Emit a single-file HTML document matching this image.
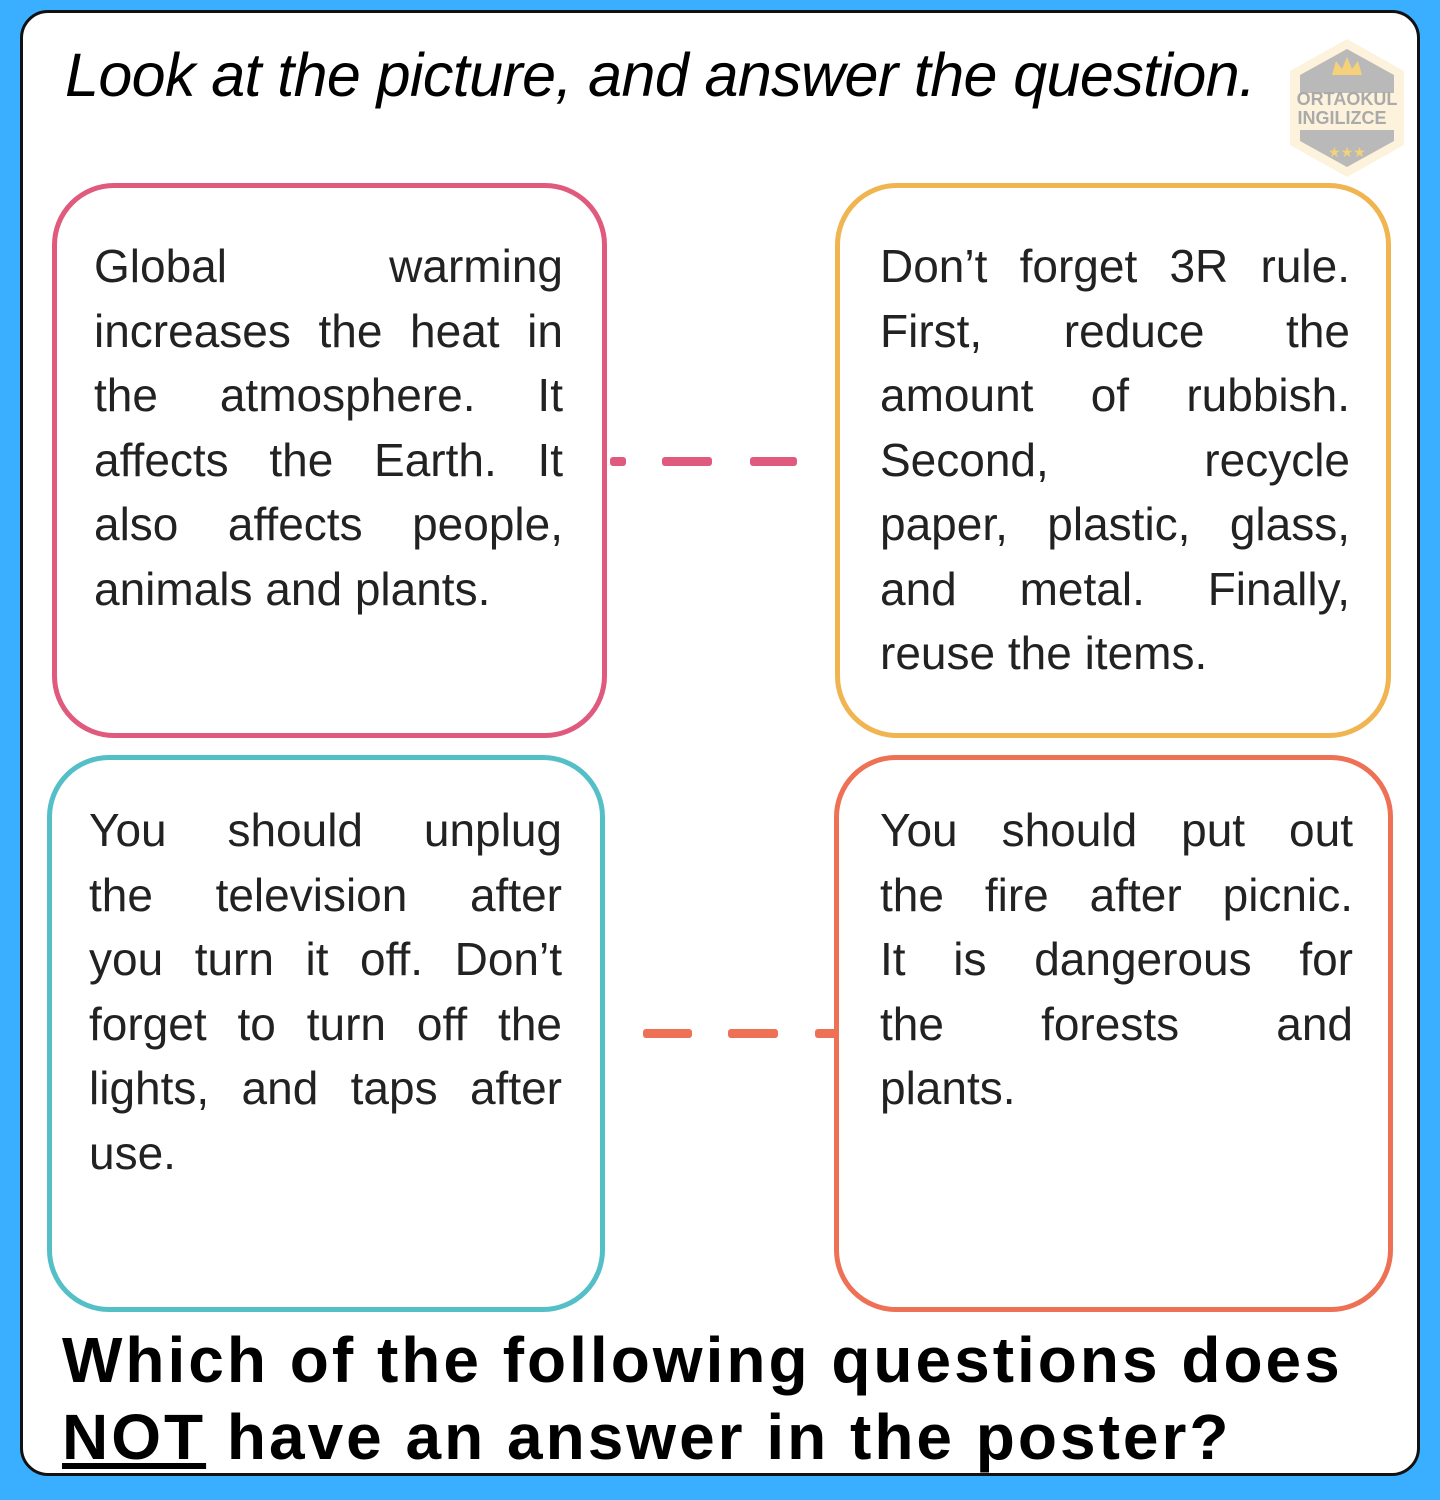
<!DOCTYPE html>
<html><head><style>
body{margin:0;width:1440px;height:1500px;background:#3aaeff;position:relative;overflow:hidden;font-family:"Liberation Sans",sans-serif}
.card{position:absolute;left:20px;top:10px;width:1394px;height:1460px;background:#fff;border:3px solid #111;border-radius:28px}
.title{position:absolute;left:65px;top:40px;font-style:italic;font-size:61px;letter-spacing:-0.6px;color:#000;white-space:nowrap}
.box{position:absolute;border:5px solid;border-radius:62px;box-sizing:border-box}
.txt{position:absolute;font-size:46px;color:#222;line-height:64.5px}
.txt div{text-align:justify;text-align-last:justify;white-space:nowrap}
.txt div.l{text-align-last:left}
.dash{position:absolute;height:9px;border-radius:3px}
.q{position:absolute;left:62px;font-weight:bold;font-size:64px;color:#000;white-space:nowrap;letter-spacing:3px}
</style></head><body>
<div class="card"></div>
<div class="title">Look at the picture, and answer the question.</div>
<svg style="position:absolute;left:1284px;top:35px" width="126" height="145" viewBox="0 0 126 145">
<polygon points="63,4 120,36 120,110 63,142 6,110 6,36" fill="#fdf3dc"/>
<polygon points="63,14 110,40 110,58 16,58 16,40" fill="#b9b9b9"/>
<polygon points="16,95 110,95 110,106 63,132 16,106" fill="#b9b9b9"/>
<path d="M48,40 L52,26 L58,34 L63,22 L68,34 L74,26 L78,40Z" fill="#f5d27a"/>
<text x="63" y="122" text-anchor="middle" font-size="14" fill="#f5d27a">★★★</text>
<text x="63" y="70" text-anchor="middle" font-size="18" font-weight="bold" fill="#aaa" font-family="Liberation Sans">ORTAOKUL</text>
<text x="58" y="89" text-anchor="middle" font-size="18" font-weight="bold" fill="#aaa" font-family="Liberation Sans">INGILIZCE</text>
</svg>
<div class="box" style="left:52px;top:183px;width:555px;height:555px;border-color:#e05a7e"></div>
<div class="box" style="left:835px;top:183px;width:556px;height:555px;border-color:#f0b450"></div>
<div class="box" style="left:47px;top:755px;width:558px;height:557px;border-color:#55bfc8"></div>
<div class="box" style="left:834px;top:755px;width:559px;height:557px;border-color:#ee7055"></div>
<div class="dash" style="left:610px;top:457px;width:16px;background:#e05a7e"></div>
<div class="dash" style="left:662px;top:457px;width:50px;background:#e05a7e"></div>
<div class="dash" style="left:750px;top:457px;width:47px;background:#e05a7e"></div>
<div class="dash" style="left:643px;top:1029px;width:49px;background:#ee7055"></div>
<div class="dash" style="left:728px;top:1029px;width:50px;background:#ee7055"></div>
<div class="dash" style="left:815px;top:1029px;width:22px;background:#ee7055"></div>
<div class="txt" style="left:94px;top:234px;width:469px">
<div>Global warming</div><div>increases the heat in</div><div>the atmosphere. It</div><div>affects the Earth. It</div><div>also affects people,</div><div class="l">animals and plants.</div></div>
<div class="txt" style="left:880px;top:234px;width:470px">
<div>Don’t forget 3R rule.</div><div>First, reduce the</div><div>amount of rubbish.</div><div>Second, recycle</div><div>paper, plastic, glass,</div><div>and metal. Finally,</div><div class="l">reuse the items.</div></div>
<div class="txt" style="left:89px;top:798px;width:473px">
<div>You should unplug</div><div>the television after</div><div>you turn it off. Don’t</div><div>forget to turn off the</div><div>lights, and taps after</div><div class="l">use.</div></div>
<div class="txt" style="left:880px;top:798px;width:473px">
<div>You should put out</div><div>the fire after picnic.</div><div>It is dangerous for</div><div>the forests and</div><div class="l">plants.</div></div>
<div class="q" style="top:1323px">Which of the following questions does</div>
<div class="q" style="top:1400px"><span style="text-decoration:underline">NOT</span> have an answer in the poster?</div>
</body></html>
